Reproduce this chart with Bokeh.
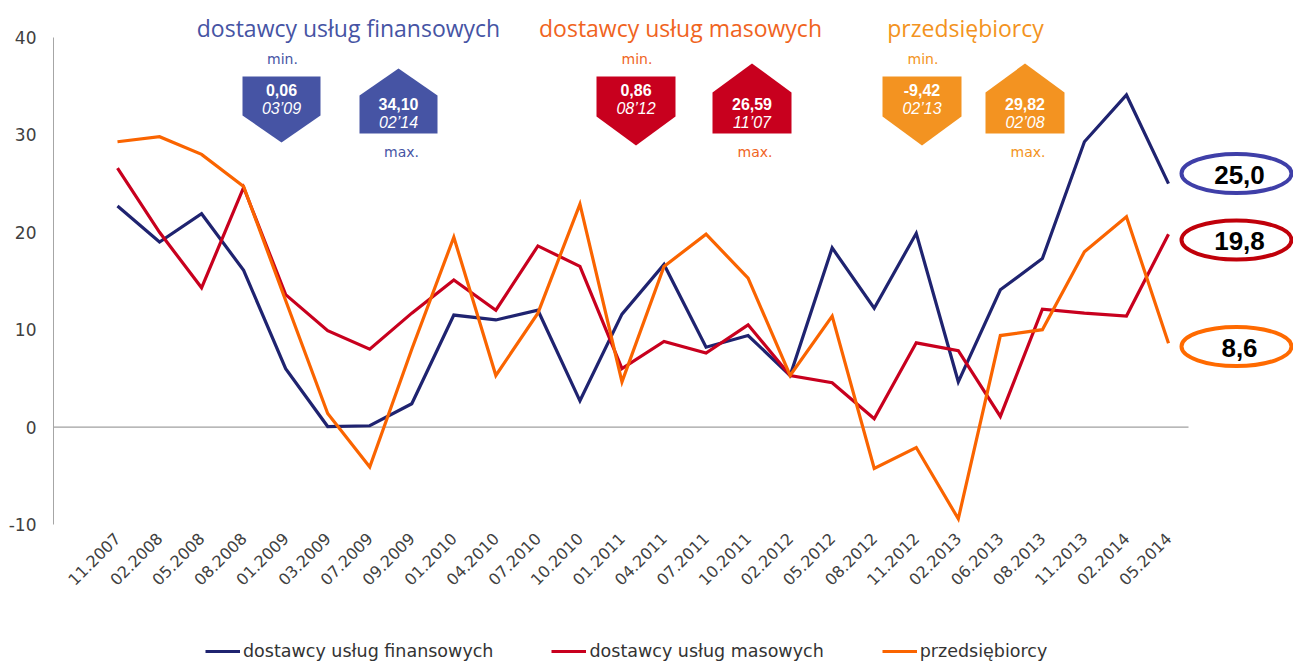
import math
from bokeh.plotting import figure
from bokeh.layouts import column
from bokeh.models import Range1d, FixedTicker, Legend, LegendItem
from bokeh.core.properties import value
from bokeh.embed import file_html
from bokeh.resources import INLINE

# ---------------- data ----------------
categories = ["11.2007", "02.2008", "05.2008", "08.2008", "01.2009", "03.2009", "07.2009",
              "09.2009", "01.2010", "04.2010", "07.2010", "10.2010", "01.2011", "04.2011",
              "07.2011", "10.2011", "02.2012", "05.2012", "08.2012", "11.2012", "02.2013",
              "06.2013", "08.2013", "11.2013", "02.2014", "05.2014"]
financial = [22.7, 19.0, 21.9, 16.1, 6.0, 0.06, 0.14, 2.4, 11.5, 11.0, 12.0, 2.7, 11.6, 16.7,
             8.2, 9.4, 5.3, 18.4, 12.2, 19.9, 4.65, 14.1, 17.3, 29.3, 34.10, 25.0]
mass = [26.59, 20.0, 14.3, 24.6, 13.6, 9.9, 8.0, 11.7, 15.1, 12.0, 18.6, 16.5, 6.0, 8.8,
        7.6, 10.5, 5.3, 4.55, 0.86, 8.65, 7.85, 1.1, 12.1, 11.7, 11.4, 19.8]
entrepreneurs = [29.3, 29.82, 28.0, 24.7, 13.0, 1.4, -4.1, 8.0, 19.5, 5.3, 11.7, 22.9, 4.65,
                 16.5, 19.8, 15.3, 5.3, 11.4, -4.24, -2.1, -9.42, 9.4, 10.0, 18.0, 21.6, 8.6]
series_names = ["dostawcy usług finansowych", "dostawcy usług masowych", "przedsiębiorcy"]
y_ticks = [-10, 0, 10, 20, 30, 40]

# ---------------- styles ----------------
line_colors = ["#1F2370", "#C8001E", "#FA6400"]
box_colors = ["#4654A4", "#C8001E", "#F39321"]
title_colors = ["#4654A4", "#F0641E", "#F39321"]
ellipse_colors = ["#3F3FA8", "#C0000A", "#FF6A00"]

W = 1293
H_MAIN = 620
H_LEG = 41
FL, FR, FT, FB = 53, 1293, 0, 524          # frame edges in page pixels
PX_X = 42.04                                # pixels per category step
PX_Y = 9.74                                 # pixels per y unit
X0 = -(117 - FL) / PX_X
X1 = X0 + (FR - FL) / PX_X
Y0 = -10
Y1 = Y0 + (FB - FT) / PX_Y

p = figure(width=W, height=H_MAIN, output_backend="svg", toolbar_location=None,
           x_range=Range1d(X0, X1), y_range=Range1d(Y0, Y1),
           min_border_left=FL, min_border_right=W - FR, min_border_top=FT,
           min_border_bottom=H_MAIN - FB)
p.outline_line_color = None
p.grid.visible = False
p.background_fill_color = "white"
p.border_fill_color = "white"

def dx(px):
    return X0 + (px - FL) / PX_X

def dy(py):
    return Y1 - (py - FT) / PX_Y

idx = list(range(len(categories)))
all_series = [financial, mass, entrepreneurs]

# zero line
p.segment(x0=[X0], y0=[0], x1=[dx(1188)], y1=[0], line_color="#A0A0A0", line_width=1.3)

for vals, col in zip(all_series, line_colors):
    p.line(idx, vals, line_color=col, line_width=3.2, line_join="miter")

# axes
ya = p.yaxis[0]
ya.ticker = FixedTicker(ticks=y_ticks)
ya.major_label_overrides = {t: str(t) for t in y_ticks}
ya.bounds = (-10, 40)
ya.axis_line_color = "#A6A6A6"
ya.major_tick_out = 0
ya.major_tick_in = 0
ya.minor_tick_line_color = None
ya.major_label_text_font = "DejaVu Sans"
ya.major_label_text_font_size = "17px"
ya.major_label_text_color = "#404040"
ya.major_label_standoff = 17

xa = p.xaxis[0]
xa.ticker = FixedTicker(ticks=idx)
xa.major_label_overrides = {i: c for i, c in enumerate(categories)}
xa.major_label_orientation = math.pi / 4
xa.axis_line_color = None
xa.major_tick_line_color = None
xa.major_tick_out = 0
xa.minor_tick_line_color = None
xa.major_label_text_font = "DejaVu Sans"
xa.major_label_text_font_size = "16px"
xa.major_label_text_color = "#404040"
xa.major_label_standoff = 11

# ---------------- min / max boxes ----------------
def fmt2(v):
    return f"{v:.2f}".replace(".", ",")

def fmt_date(c):
    return f"{c[:2]}\u2019{c[-2:]}"

min_geo = [(242, 320, 76, 115, 142), (596, 675, 76, 116, 145), (882, 961, 76, 116, 145)]
max_geo = [(359, 437, 68, 95, 133), (712, 791, 63, 92, 133), (985, 1064, 63, 92, 133)]
title_cx = [348, 680, 965]

for k, vals in enumerate(all_series):
    imin = min(range(len(vals)), key=lambda i: vals[i])
    imax = max(range(len(vals)), key=lambda i: vals[i])
    L, R, T, B, P = min_geo[k]
    C = (L + R) / 2
    xs1 = [dx(L), dx(R), dx(R), dx(C), dx(L)]
    ys1 = [dy(T), dy(T), dy(B), dy(P), dy(B)]
    L2, R2, PT, S, BT = max_geo[k]
    C2 = (L2 + R2) / 2
    xs2 = [dx(C2), dx(R2), dx(R2), dx(L2), dx(L2)]
    ys2 = [dy(PT), dy(S), dy(BT), dy(BT), dy(S)]
    p.patches([xs1, xs2], [ys1, ys2], fill_color=box_colors[k], line_color=None)
    p.text(x=[dx(C), dx(C2)], y=[dy(T + 13), dy(BT - 30)],
           text=[fmt2(vals[imin]), fmt2(vals[imax])],
           text_font=value("Liberation Sans"), text_font_style="bold", text_font_size="16px",
           text_color="white", text_align="center", text_baseline="middle")
    p.text(x=[dx(C), dx(C2)], y=[dy(T + 32), dy(BT - 11)],
           text=[fmt_date(categories[imin]), fmt_date(categories[imax])],
           text_font=value("Liberation Sans"), text_font_style="italic", text_font_size="16px",
           text_color="white", text_align="center", text_baseline="middle")
    p.text(x=[dx(C + 1), dx(C2 + 3)], y=[dy(58), dy(151)], text=["min.", "max."],
           text_font=value("DejaVu Sans"), text_font_size="14px",
           text_color=title_colors[k], text_align="center", text_baseline="middle")
    p.text(x=[dx(title_cx[k])], y=[dy(27)], text=[series_names[k]],
           text_font=value("Open Sans"), text_font_size="23px",
           text_color=title_colors[k], text_align="center", text_baseline="middle")

# ---------------- last values in ellipses ----------------
ell_y = [173, 239.5, 346]
for k, vals in enumerate(all_series):
    p.ellipse(x=[dx(1236)], y=[dy(ell_y[k])], width=[110], height=[39],
              width_units="screen", height_units="screen",
              fill_color=None, line_color=ellipse_colors[k], line_width=4)
    p.text(x=[dx(1239)], y=[dy(ell_y[k] + 1)], text=[f"{vals[-1]:.1f}".replace(".", ",")],
           text_font=value("Liberation Sans"), text_font_style="bold", text_font_size="26px",
           text_color="black", text_align="center", text_baseline="middle")

# ---------------- legend strip ----------------
lf = figure(width=W, height=H_LEG, output_backend="svg", toolbar_location=None,
            x_range=Range1d(0, 1), y_range=Range1d(1000, 1001),
            x_axis_type=None, y_axis_type=None,
            min_border_left=0, min_border_right=0, min_border_top=0, min_border_bottom=0)
lf.outline_line_color = None
lf.grid.visible = False
leg_renderers = [lf.line(idx, vals, line_color=col, line_width=3.2)
                 for vals, col in zip(all_series, line_colors)]
legend = Legend(items=[LegendItem(label=n, renderers=[r]) for n, r in zip(series_names, leg_renderers)],
                orientation="horizontal", location=(152, 0), spacing=58,
                glyph_width=35, glyph_height=20, label_standoff=3, padding=0, margin=0,
                border_line_color=None, background_fill_alpha=0,
                label_text_font="DejaVu Sans", label_text_font_size="17.5px",
                label_text_color="#333333")
lf.add_layout(legend)

open("out.html", "w").write(file_html(column(p, lf, spacing=0), INLINE))
